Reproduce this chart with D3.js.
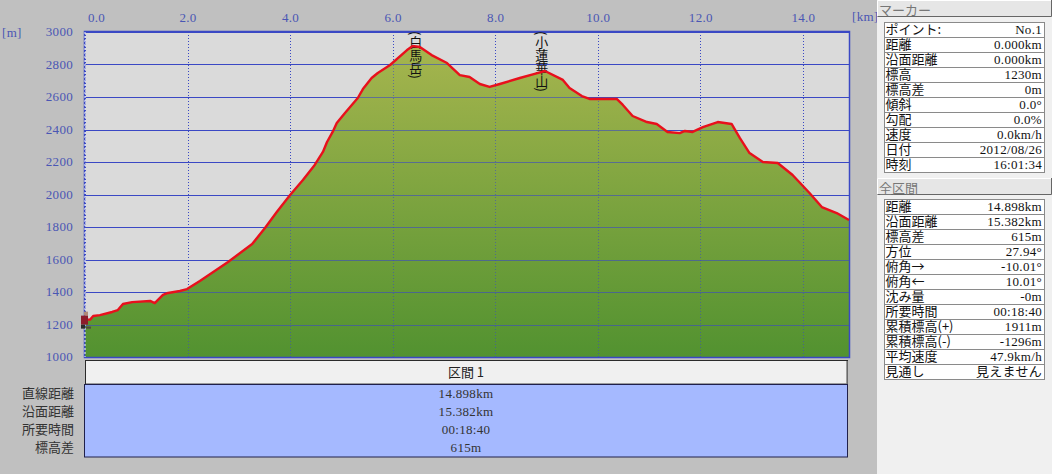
<!DOCTYPE html>
<html><head><meta charset="utf-8">
<script src="https://cdn.jsdelivr.net/npm/d3@7"></script>
<style>
html,body{margin:0;padding:0;background:#c0c0c0;overflow:hidden}
svg{display:block}
text{font-family:"Noto Sans CJK JP",sans-serif;font-size:13px}
.num text,text.num{font-family:"Liberation Serif","Noto Sans CJK JP",serif;font-size:13px;letter-spacing:.3px}
</style></head><body>
<svg id="c" width="1052" height="474"></svg>
<script>
// Elevation profile
const distanceKm = [0,0.10,0.16,0.29,0.53,0.64,0.74,0.92,1.27,1.36,1.52,1.62,1.85,1.99,2.24,2.79,3.26,3.51,3.74,4.0,4.25,4.48,4.64,4.72,4.83,4.91,5.07,5.32,5.42,5.59,5.71,5.95,6.28,6.39,6.53,6.76,7.06,7.31,7.50,7.70,7.89,8.09,8.48,8.77,8.97,9.32,9.45,9.69,9.84,10.37,10.49,10.68,10.96,11.15,11.36,11.60,11.70,11.85,12.05,12.34,12.61,12.77,12.96,13.22,13.51,13.80,14.13,14.37,14.66,14.90];
const elevationM = [1230,1230,1252,1258,1277,1289,1326,1338,1345,1332,1382,1394,1406,1418,1468,1585,1695,1794,1892,1997,2089,2182,2262,2323,2385,2440,2502,2594,2649,2717,2748,2797,2889,2914,2908,2858,2809,2735,2723,2680,2662,2680,2717,2742,2760,2705,2655,2606,2588,2588,2551,2483,2446,2434,2385,2378,2391,2385,2415,2446,2434,2348,2255,2200,2194,2120,2009,1923,1886,1843];
const xTicks = [0,2,4,6,8,10,12,14];
const yTicks = [1000,1200,1400,1600,1800,2000,2200,2400,2600,2800,3000];
const peakNames = ["(白馬岳)","(小蓮華山)"];
const peakKm = [6.45,8.91];
const sectionTitle = "区間 1";
const sectionLabels = ["直線距離","沿面距離","所要時間","標高差"];
const sectionValues = ["14.898km","15.382km","00:18:40","615m"];
const markerTitle = "マーカー";
const markerLabels = ["ポイント:","距離","沿面距離","標高","標高差","傾斜","勾配","速度","日付","時刻"];
const markerValues = ["No.1","0.000km","0.000km","1230m","0m","0.0°","0.0%","0.0km/h","2012/08/26","16:01:34"];
const totalTitle = "全区間";
const totalLabels = ["距離","沿面距離","標高差","方位","俯角→","俯角←","沈み量","所要時間","累積標高(+)","累積標高(-)","平均速度","見通し"];
const totalValues = ["14.898km","15.382km","615m","27.94°","-10.01°","10.01°","-0m","00:18:40","1911m","-1296m","47.9km/h","見えません"];

const svg = d3.select("#c");
const L=85,R=849,T=32,B=357;
const x = d3.scaleLinear().domain([0,14.9]).range([L,R]);
const y = d3.scaleLinear().domain([1000,3000]).range([B,T]);
const yGrid = y.copy().rangeRound([B,T]);
const xGrid = x.copy().rangeRound([L,R]);
const BLUE="#3a48c4", LBL="#4a56b4";
const profile = d3.range(distanceKm.length).map(i=>({d:distanceKm[i],e:elevationM[i]}));

svg.append("rect").attr("x",L).attr("y",T).attr("width",R-L).attr("height",B-T).attr("fill","#dadada");

const defs = svg.append("defs");
const g = defs.append("linearGradient").attr("id","fill").attr("gradientUnits","userSpaceOnUse")
  .attr("x1",0).attr("x2",0).attr("y1",y(2915)).attr("y2",B);
g.append("stop").attr("offset",0).attr("stop-color","#a6b54e");
g.append("stop").attr("offset",1).attr("stop-color","#529230");
const area = d3.area().x(p=>x(p.d)).y0(B).y1(p=>y(p.e));
defs.append("clipPath").attr("id","under").append("path").attr("d",area(profile));

function grid(parent, opacity){
  const h = parent.append("g").attr("transform",`translate(${L},0)`)
    .call(d3.axisLeft(yGrid).tickValues(yTicks).tickSize(-(R-L)).tickFormat(""));
  h.select(".domain").remove();
  h.selectAll("line").attr("stroke",BLUE).attr("stroke-width",1).attr("opacity",opacity);
  const v = parent.append("g").attr("transform",`translate(0,${B})`)
    .call(d3.axisBottom(xGrid).tickValues(xTicks).tickSize(-(B-T)).tickFormat(""));
  v.select(".domain").remove();
  v.selectAll("line").attr("stroke",BLUE).attr("stroke-width",1).attr("stroke-dasharray","1 2").attr("opacity",opacity);
}
grid(svg.append("g"),1);
svg.append("path").attr("d",area(profile)).attr("fill","url(#fill)");
grid(svg.append("g").attr("clip-path","url(#under)"),0.6);

// frame
svg.append("rect").attr("x",L-0.5).attr("y",T-0.5).attr("width",R-L+1).attr("height",B-T+1)
  .attr("fill","none").attr("stroke",BLUE).attr("stroke-width",1.5);
svg.append("line").attr("x1",L).attr("x2",L).attr("y1",T).attr("y2",B).attr("stroke","#fff").attr("stroke-dasharray","2 2");

// axis labels
const ax = svg.append("g").attr("class","num").attr("transform","translate(0,23)")
  .call(d3.axisTop(x).tickValues(xTicks).tickSize(0).tickPadding(0).tickFormat(d3.format(".1f")));
ax.select(".domain").remove();
ax.selectAll("text").attr("fill",LBL).style("font-size","13px").attr("y",-1).attr("dx",d=>d===0?11:0);
const ay = svg.append("g").attr("class","num").attr("transform","translate(73,-0.5)")
  .call(d3.axisLeft(y).tickValues(yTicks).tickSize(0).tickPadding(0).tickFormat(d3.format("d")));
ay.select(".domain").remove();
ay.selectAll("text").attr("fill",LBL).style("font-size","13px");
svg.append("text").attr("class","num").attr("x",2).attr("y",37).attr("fill",LBL).text("[m]");
svg.append("text").attr("class","num").attr("x",852).attr("y",21).attr("fill",LBL).text("[km]");

// peak names, vertical
peakNames.forEach((n,i)=>{
  svg.append("text").attr("x",x(peakKm[i])).attr("y",T-1)
    .style("writing-mode","vertical-rl").attr("fill","#111")
    .text(n);
});

// profile line
svg.append("path").datum(profile)
  .attr("d",d3.line().x(p=>x(p.d)).y(p=>y(p.e)))
  .attr("fill","none").attr("stroke","#e8101c").attr("stroke-width",2.4).attr("stroke-linejoin","round");

// walker marker at first profile point
const px=x(distanceKm[0]), py=y(elevationM[0]);
const w=svg.append("g").attr("transform",`translate(${px},${py})`);
w.append("rect").attr("x",-1).attr("y",-8).attr("width",4).attr("height",4).attr("fill","#b08a78");
w.append("rect").attr("x",-4).attr("y",-4).attr("width",7).attr("height",9).attr("fill","#8c1c2c");
w.append("rect").attr("x",-4).attr("y",5).attr("width",4).attr("height",4).attr("fill","#2c2c2c");
w.append("rect").attr("x",1).attr("y",7).attr("width",5).attr("height",2).attr("fill","#554a40");

// section box
svg.append("rect").attr("x",85.5).attr("y",360.5).attr("width",762).attr("height",24)
  .attr("fill","#f0f0f0").attr("stroke","#2a2a2a");
svg.append("line").attr("x1",86).attr("x2",847).attr("y1",384).attr("y2",384).attr("stroke","#808080").attr("stroke-width",1.5);
svg.append("line").attr("x1",847).attr("x2",847).attr("y1",361).attr("y2",384).attr("stroke","#808080").attr("stroke-width",1.5);
svg.append("text").attr("x",466).attr("y",377).attr("text-anchor","middle").attr("fill","#222").text(sectionTitle);
svg.append("rect").attr("x",84.5).attr("y",384.5).attr("width",763).attr("height",72.5)
  .attr("fill","#a5b9ff").attr("stroke","#20204a");
const rowY = d3.scalePoint().domain(sectionLabels).range([398,452]);
svg.selectAll(".sl").data(sectionLabels).join("text").attr("class","sl")
  .attr("x",74).attr("y",d=>rowY(d)).attr("text-anchor","end").attr("fill","#333").text(d=>d);
svg.selectAll(".sv").data(sectionValues).join("text").attr("class","sv num")
  .attr("x",466).attr("y",(d,i)=>rowY(sectionLabels[i])).attr("text-anchor","middle").attr("fill","#333").text(d=>d);

// right panel
svg.append("rect").attr("x",877).attr("y",0).attr("width",175).attr("height",474).attr("fill","#f0f0f0");
function header(t,y0){
  svg.append("rect").attr("x",877).attr("y",y0).attr("width",175).attr("height",17).attr("fill","#e6e6e6");
  svg.append("path").attr("d",`M877.5 ${y0+16.5}H1051.5V${y0}`).attr("fill","none").attr("stroke","#666");
  svg.append("path").attr("d",`M877.5 ${y0+16}V${y0+.5}H1051`).attr("fill","none").attr("stroke","#fff");
  svg.append("text").attr("x",879).attr("y",y0+15).attr("fill","#777").text(t);
}
function table(labels,values,y0){
  const rh=15, rows=labels.length;
  const gr=svg.append("g");
  gr.append("rect").attr("x",884.5).attr("y",y0+.5).attr("width",160).attr("height",rh*rows).attr("fill","#fff").attr("stroke","#8a8a8a");
  labels.forEach((l,i)=>{
    if(i) gr.append("line").attr("x1",885).attr("x2",1044).attr("y1",y0+i*rh+.5).attr("y2",y0+i*rh+.5).attr("stroke","#8a8a8a");
    gr.append("text").attr("x",885.5).attr("y",y0+i*rh+12).attr("fill","#111").text(l);
    gr.append("text").attr("class","num").attr("x",1042).attr("y",y0+i*rh+12).attr("text-anchor","end").attr("fill","#111").text(values[i]);
  });
}
header(markerTitle,0);
table(markerLabels,markerValues,22);
header(totalTitle,178);
table(totalLabels,totalValues,199);
</script>
</body></html>
